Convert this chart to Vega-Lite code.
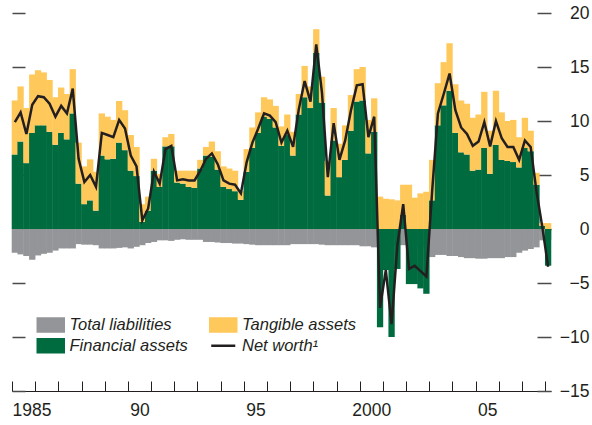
{
"$schema": "https://vega.github.io/schema/vega-lite/v6.json",
"width": 539, "height": 378,
"autosize": {"type": "none"},
"padding": {"left": 12, "top": 13, "right": 41, "bottom": 34},
"config": {"view": {"stroke": null}, "font": "Liberation Sans"},
"data": {"values": [
{"d":"1985-01-01","fin":6.9,"tan":5.0,"liab":-2.2,"nw":9.9},
{"d":"1985-04-01","fin":8.1,"tan":5.1,"liab":-2.35,"nw":10.8},
{"d":"1985-07-01","fin":6.1,"tan":5.1,"liab":-2.5,"nw":8.8},
{"d":"1985-10-01","fin":8.9,"tan":5.4,"liab":-2.85,"nw":11.5},
{"d":"1986-01-01","fin":9.6,"tan":5.1,"liab":-2.45,"nw":12.3},
{"d":"1986-04-01","fin":9.6,"tan":4.9,"liab":-2.3,"nw":12.2},
{"d":"1986-07-01","fin":9.0,"tan":4.8,"liab":-2.2,"nw":11.6},
{"d":"1986-10-01","fin":7.8,"tan":4.4,"liab":-2.0,"nw":10.4},
{"d":"1987-01-01","fin":8.9,"tan":4.2,"liab":-1.8,"nw":11.4},
{"d":"1987-04-01","fin":8.3,"tan":4.2,"liab":-1.8,"nw":10.7},
{"d":"1987-07-01","fin":10.7,"tan":4.1,"liab":-1.8,"nw":13.0},
{"d":"1987-10-01","fin":4.2,"tan":3.8,"liab":-1.4,"nw":6.5},
{"d":"1988-01-01","fin":2.3,"tan":3.5,"liab":-1.45,"nw":4.35},
{"d":"1988-04-01","fin":2.65,"tan":3.8,"liab":-1.45,"nw":5.0},
{"d":"1988-07-01","fin":1.7,"tan":3.6,"liab":-1.5,"nw":3.9},
{"d":"1988-10-01","fin":6.8,"tan":3.9,"liab":-1.8,"nw":8.9},
{"d":"1989-01-01","fin":6.45,"tan":3.95,"liab":-1.8,"nw":8.7},
{"d":"1989-04-01","fin":6.5,"tan":3.6,"liab":-1.8,"nw":8.5},
{"d":"1989-07-01","fin":8.0,"tan":3.85,"liab":-1.75,"nw":10.1},
{"d":"1989-10-01","fin":7.3,"tan":3.7,"liab":-1.7,"nw":9.3},
{"d":"1990-01-01","fin":5.4,"tan":3.3,"liab":-1.8,"nw":6.8},
{"d":"1990-04-01","fin":4.9,"tan":2.7,"liab":-1.65,"nw":5.8},
{"d":"1990-07-01","fin":0.65,"tan":1.65,"liab":-1.5,"nw":0.8},
{"d":"1990-10-01","fin":1.7,"tan":1.3,"liab":-1.3,"nw":1.9},
{"d":"1991-01-01","fin":5.4,"tan":1.1,"liab":-1.2,"nw":5.3},
{"d":"1991-04-01","fin":3.9,"tan":1.2,"liab":-1.05,"nw":4.2},
{"d":"1991-07-01","fin":7.65,"tan":0.85,"liab":-1.05,"nw":7.4},
{"d":"1991-10-01","fin":7.65,"tan":1.15,"liab":-1.1,"nw":7.7},
{"d":"1992-01-01","fin":4.3,"tan":1.1,"liab":-1.0,"nw":4.5},
{"d":"1992-04-01","fin":4.2,"tan":1.2,"liab":-0.95,"nw":4.6},
{"d":"1992-07-01","fin":3.9,"tan":1.5,"liab":-1.0,"nw":4.5},
{"d":"1992-10-01","fin":3.8,"tan":1.6,"liab":-1.0,"nw":4.5},
{"d":"1993-01-01","fin":5.6,"tan":0.8,"liab":-1.0,"nw":5.4},
{"d":"1993-04-01","fin":6.8,"tan":0.8,"liab":-1.2,"nw":6.5},
{"d":"1993-07-01","fin":6.7,"tan":1.4,"liab":-1.2,"nw":7.0},
{"d":"1993-10-01","fin":5.5,"tan":1.7,"liab":-1.25,"nw":6.0},
{"d":"1994-01-01","fin":3.9,"tan":1.9,"liab":-1.3,"nw":4.5},
{"d":"1994-04-01","fin":3.7,"tan":1.9,"liab":-1.3,"nw":4.2},
{"d":"1994-07-01","fin":3.5,"tan":1.9,"liab":-1.35,"nw":4.1},
{"d":"1994-10-01","fin":2.7,"tan":0.8,"liab":-1.35,"nw":3.3},
{"d":"1995-01-01","fin":5.3,"tan":2.1,"liab":-1.4,"nw":6.2},
{"d":"1995-04-01","fin":7.5,"tan":1.9,"liab":-1.45,"nw":8.0},
{"d":"1995-07-01","fin":8.9,"tan":1.9,"liab":-1.5,"nw":9.3},
{"d":"1995-10-01","fin":10.4,"tan":1.8,"liab":-1.5,"nw":10.7},
{"d":"1996-01-01","fin":10.2,"tan":1.8,"liab":-1.5,"nw":10.5},
{"d":"1996-04-01","fin":9.4,"tan":2.0,"liab":-1.5,"nw":9.9},
{"d":"1996-07-01","fin":7.7,"tan":1.8,"liab":-1.5,"nw":8.0},
{"d":"1996-10-01","fin":8.7,"tan":1.9,"liab":-1.5,"nw":9.1},
{"d":"1997-01-01","fin":6.8,"tan":2.2,"liab":-1.4,"nw":7.6},
{"d":"1997-04-01","fin":10.6,"tan":1.9,"liab":-1.4,"nw":11.1},
{"d":"1997-07-01","fin":12.2,"tan":2.9,"liab":-1.4,"nw":13.7},
{"d":"1997-10-01","fin":11.2,"tan":2.0,"liab":-1.4,"nw":11.8},
{"d":"1998-01-01","fin":16.3,"tan":2.2,"liab":-1.4,"nw":17.1},
{"d":"1998-04-01","fin":11.7,"tan":2.4,"liab":-1.45,"nw":12.6},
{"d":"1998-07-01","fin":3.1,"tan":3.2,"liab":-1.5,"nw":4.8},
{"d":"1998-10-01","fin":8.2,"tan":3.0,"liab":-1.5,"nw":9.8},
{"d":"1999-01-01","fin":4.8,"tan":3.1,"liab":-1.5,"nw":6.4},
{"d":"1999-04-01","fin":6.4,"tan":3.2,"liab":-1.5,"nw":8.2},
{"d":"1999-07-01","fin":9.1,"tan":3.3,"liab":-1.5,"nw":11.0},
{"d":"1999-10-01","fin":11.8,"tan":3.0,"liab":-1.5,"nw":13.3},
{"d":"2000-01-01","fin":11.9,"tan":3.1,"liab":-1.6,"nw":13.4},
{"d":"2000-04-01","fin":7.0,"tan":3.1,"liab":-1.6,"nw":8.5},
{"d":"2000-07-01","fin":9.0,"tan":3.1,"liab":-1.7,"nw":10.4},
{"d":"2000-10-01","fin":-9.1,"tan":3.0,"liab":-1.5,"nw":-7.3},
{"d":"2001-01-01","fin":-3.8,"tan":2.8,"liab":-1.5,"nw":-3.8},
{"d":"2001-04-01","fin":-10.0,"tan":2.75,"liab":-1.5,"nw":-8.8},
{"d":"2001-07-01","fin":-3.7,"tan":2.65,"liab":-1.5,"nw":-1.5},
{"d":"2001-10-01","fin":1.3,"tan":2.8,"liab":-1.5,"nw":2.3},
{"d":"2002-01-01","fin":-5.1,"tan":4.1,"liab":-1.5,"nw":-3.7},
{"d":"2002-04-01","fin":-5.1,"tan":2.9,"liab":-1.5,"nw":-3.4},
{"d":"2002-07-01","fin":-5.5,"tan":3.3,"liab":-1.6,"nw":-3.9},
{"d":"2002-10-01","fin":-6.0,"tan":3.45,"liab":-1.7,"nw":-4.4},
{"d":"2003-01-01","fin":2.65,"tan":3.75,"liab":-2.6,"nw":3.5},
{"d":"2003-04-01","fin":9.6,"tan":3.9,"liab":-2.4,"nw":10.7},
{"d":"2003-07-01","fin":11.45,"tan":4.0,"liab":-2.4,"nw":12.5},
{"d":"2003-10-01","fin":12.8,"tan":4.4,"liab":-2.5,"nw":14.4},
{"d":"2004-01-01","fin":8.9,"tan":4.5,"liab":-2.5,"nw":11.0},
{"d":"2004-04-01","fin":7.1,"tan":4.8,"liab":-2.6,"nw":9.4},
{"d":"2004-07-01","fin":6.9,"tan":4.7,"liab":-2.7,"nw":8.8},
{"d":"2004-10-01","fin":5.4,"tan":4.9,"liab":-2.7,"nw":7.7},
{"d":"2005-01-01","fin":5.5,"tan":5.1,"liab":-2.75,"nw":8.1},
{"d":"2005-04-01","fin":7.5,"tan":5.2,"liab":-2.75,"nw":9.9},
{"d":"2005-07-01","fin":5.1,"tan":4.0,"liab":-2.7,"nw":7.65},
{"d":"2005-10-01","fin":7.8,"tan":5.0,"liab":-2.7,"nw":10.0},
{"d":"2006-01-01","fin":6.4,"tan":4.4,"liab":-2.7,"nw":8.4},
{"d":"2006-04-01","fin":6.3,"tan":3.7,"liab":-2.6,"nw":7.6},
{"d":"2006-07-01","fin":6.2,"tan":3.9,"liab":-2.6,"nw":7.6},
{"d":"2006-10-01","fin":5.7,"tan":2.8,"liab":-2.2,"nw":6.4},
{"d":"2007-01-01","fin":7.5,"tan":2.8,"liab":-2.0,"nw":8.2},
{"d":"2007-04-01","fin":7.2,"tan":1.9,"liab":-1.85,"nw":7.6},
{"d":"2007-07-01","fin":4.1,"tan":1.1,"liab":-1.7,"nw":3.5},
{"d":"2007-10-01","fin":0.3,"tan":0.25,"liab":-1.05,"nw":0.2},
{"d":"2008-01-01","fin":-3.4,"tan":0.55,"liab":-1.0,"nw":-3.5}
]},
"resolve": {"scale": {"y": "shared"}, "axis": {"y": "independent"}},
"layer": [
{
"mark": {"type": "bar", "width": 6.3},
"encoding": {
"x": {"field": "d", "type": "temporal", "timeUnit": "yearquarter", "bandPosition": 0.5,
"scale": {"domain": [{"year": 1985, "month": 1, "date": 1}, {"year": 2008, "month": 4, "date": 1}]},
"axis": {"title": null, "grid": false, "domain": true, "domainColor": "#231F20", "tickColor": "#231F20", "tickSize": -10, "tickCount": {"interval": "year", "step": 1},
"labelExpr": "year(datum.value) % 5 === 0 ? ((year(datum.value) === 1985 || year(datum.value) === 2000) ? timeFormat(datum.value, '%Y') : timeFormat(datum.value, '%y')) : ''",
"labelOffset": {"condition": {"test": "year(datum.value) === 1985", "value": 0}, "value": 11.6},
"labelAlign": {"condition": {"test": "year(datum.value) === 1985", "value": "left"}, "value": "center"},
"labelFontSize": 17.5, "labelColor": "#231F20", "labelPadding": 20, "labelFlush": false, "labelOverlap": false}},
"y": {"field": "liab", "type": "quantitative",
"scale": {"domain": [-15, 20], "nice": false},
"axis": {"orient": "left", "title": null, "grid": false, "domain": false, "labels": false, "tickSize": -13, "tickColor": "#4a4a4a", "tickWidth": 1.5, "values": [-15,-10,-5,0,5,10,15,20]}},
"color": {"datum": "liab", "type": "nominal", "title": null,
"scale": {"domain": ["liab", "fin", "tan", "nw"], "range": ["#939598", "#006B3F", "#FFC85B", "#231F20"]},
"legend": {"orient": "none", "legendX": 30.5, "legendY": 303.5, "columns": 2, "columnPadding": 16.5, "rowPadding": -3, "padding": 0, "title": null,
"symbolType": "M-2,-1H2V1H-2Z", "symbolSize": 169, "symbolStrokeWidth": 2.5,
"labelFontSize": 16.5, "labelFontStyle": "italic", "labelColor": "#231F20", "labelOffset": 10.5,
"labelExpr": "datum.value === 'liab' ? 'Total liabilities' : datum.value === 'tan' ? 'Tangible assets' : datum.value === 'fin' ? 'Financial assets' : 'Net worth¹'",
"encode": {"symbols": {"update": {
"shape": {"signal": "datum.value === 'nw' ? 'M-1.85,0H1.85' : 'M-2,-1H2V1H-2Z'"},
"stroke": {"signal": "datum.value === 'nw' ? '#231F20' : 'transparent'"},
"strokeWidth": {"value": 2.5}}}}}}
}
},
{
"transform": [{"fold": ["fin", "tan"], "as": ["key", "value"]}],
"mark": {"type": "bar", "width": 6.3},
"encoding": {
"x": {"field": "d", "type": "temporal", "timeUnit": "yearquarter", "bandPosition": 0.5},
"y": {"field": "value", "type": "quantitative", "stack": "zero", "axis": null},
"color": {"field": "key", "type": "nominal", "title": null},
"order": {"field": "key", "sort": "ascending"}
}
},
{
"mark": {"type": "line", "strokeWidth": 2.5, "color": "#231F20"},
"encoding": {
"x": {"field": "d", "type": "temporal", "timeUnit": "yearquarter", "bandPosition": 0.5},
"y": {"field": "nw", "type": "quantitative",
"axis": {"orient": "right", "title": null, "grid": false, "domain": false, "tickSize": -14, "tickColor": "#4a4a4a", "tickWidth": 1.5, "values": [-15,-10,-5,0,5,10,15,20],
"labelAlign": "right", "labelPadding": 52, "labelFontSize": 17.5, "labelColor": "#231F20", "labelFlush": false, "labelOverlap": false, "format": "d"}},
"color": {"datum": "nw", "type": "nominal", "title": null}
}
}
]
}
